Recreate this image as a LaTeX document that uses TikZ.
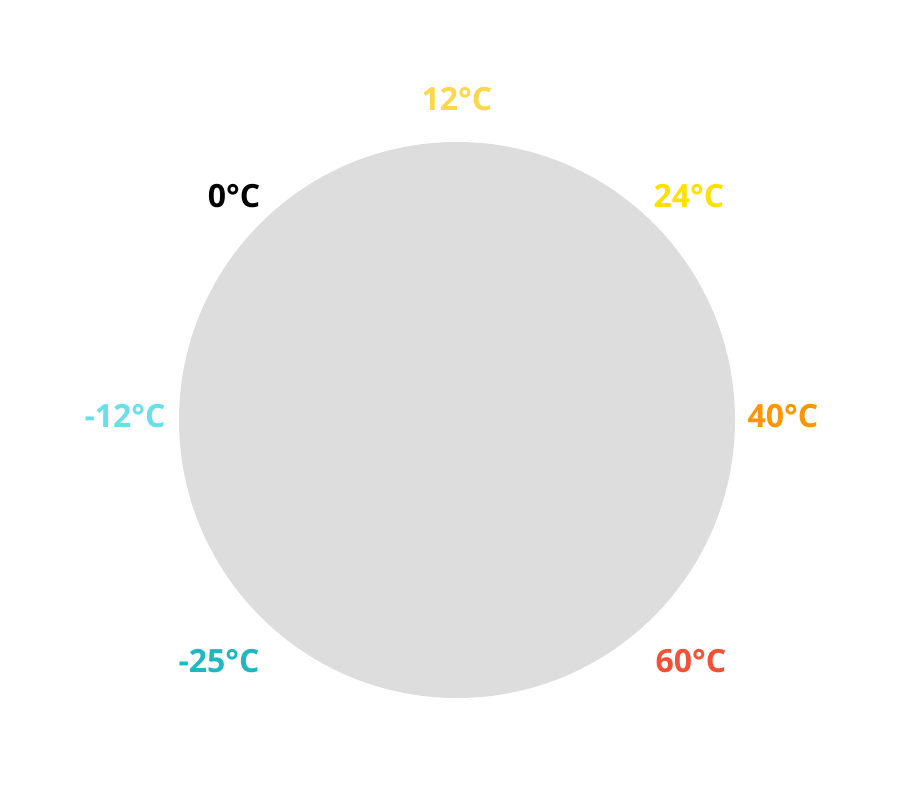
\documentclass[tikz,border=0pt]{standalone}
\usepackage{fontspec}
\setmainfont{Open Sans}
\usepackage{tikz}
\definecolor{dialgrey}{HTML}{DDDDDD}
\definecolor{tcold}{HTML}{1FB8C0}
\definecolor{tcool}{HTML}{68E0E8}
\definecolor{tmild}{HTML}{F9D849}
\definecolor{twarm}{HTML}{FFE000}
\definecolor{thot}{HTML}{FF9500}
\definecolor{tvhot}{HTML}{F55036}
\newcommand{\degc}{°C}

\begin{document}
\begin{tikzpicture}[x=1pt,y=-1pt,
  lbl/.style={inner sep=0pt,anchor=center,font=\fontsize{32}{38}\selectfont\bfseries}]
\useasboundingbox (0,0) rectangle (911,795);
\fill[dialgrey] (457,420) circle[radius=278];
\node[lbl,tmild] (t12) at (457,99) {12\degc};
\node[lbl,twarm] (t24) at (689,196) {24\degc};
\node[lbl,thot] (t40) at (783,416) {40\degc};
\node[lbl,tvhot] (t60) at (691,661) {60\degc};
\node[lbl,tcold] (tm25) at (219,661) {-25\degc};
\node[lbl,tcool] (tm12) at (125,416) {-12\degc};
\node[lbl,black] (t0) at (234,196) {0\degc};
\end{tikzpicture}
\end{document}
